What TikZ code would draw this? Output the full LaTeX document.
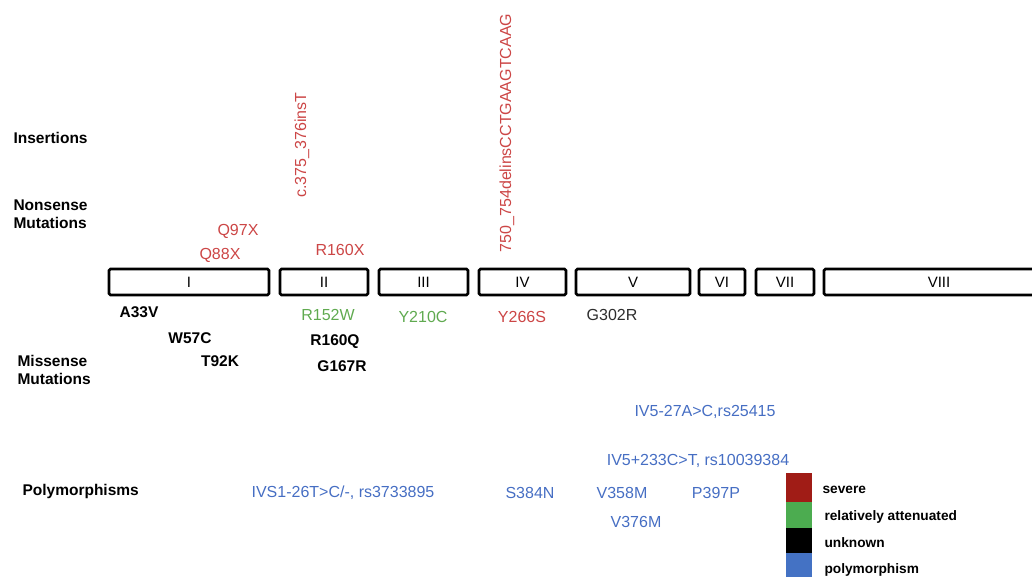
\documentclass[tikz,border=0pt]{standalone}
\usepackage{fontspec}
\setmainfont{Liberation Sans}
\definecolor{txtred}{RGB}{204,70,70}
\definecolor{txtgreen}{RGB}{96,170,80}
\definecolor{txtblue}{RGB}{70,110,195}
\definecolor{txtgray}{RGB}{45,45,45}
\definecolor{legred}{RGB}{160,28,22}
\definecolor{leggreen}{RGB}{76,172,80}
\definecolor{legblue}{RGB}{68,114,196}
\tikzset{
  exon/.style={draw, line width=2.8pt, rounded corners=1.5pt, minimum height=26pt, inner sep=0pt, font=\fontsize{15}{17}\selectfont},
  cat/.style={font=\fontsize{15.5}{18}\selectfont\bfseries, anchor=west, align=left},
  mut/.style={font=\fontsize{16}{18}\selectfont},
  sev/.style={mut, text=txtred},
  att/.style={mut, text=txtgreen},
  unk/.style={font=\fontsize{15.5}{18}\selectfont\bfseries, text=black},
  unkg/.style={mut, text=txtgray},
  poly/.style={mut, text=txtblue},
  legbox/.style={minimum width=26pt, inner sep=0pt, draw=none},
  legtxt/.style={font=\fontsize{13.7}{16}\selectfont\bfseries, anchor=west}
}
\begin{document}
\begin{tikzpicture}[x=1pt,y=-1pt]
\useasboundingbox (0,0) rectangle (1032,577);
\begin{scope}
\clip (0,0) rectangle (1032,577);
% category labels
\node[cat] (ins) at (10,138) {Insertions};
\node[cat] (non) at (10,214) {Nonsense\\Mutations};
\node[cat] (mis) at (14,370) {Missense\\Mutations};
\node[cat] (pol) at (19,491) {Polymorphisms};
% exons
\node[exon, minimum width=160pt] (e1) at (189,282) {I};
\node[exon, minimum width=88pt] (e2) at (324,282) {II};
\node[exon, minimum width=89pt] (e3) at (423.5,282) {III};
\node[exon, minimum width=87pt] (e4) at (522.5,282) {IV};
\node[exon, minimum width=114pt] (e5) at (633,282) {V};
\node[exon, minimum width=46pt] (e6) at (722,282) {VI};
\node[exon, minimum width=58pt] (e7) at (785,282) {VII};
\node[exon, minimum width=230pt] (e8) at (939,282) {VIII};
% insertions
\node[sev, rotate=90] (i1) at (302,145) {c.375\_376insT};
\node[sev, rotate=90] (i2) at (507,133) {750\_754delinsCCTGAAGTCAAG};
% nonsense
\node[sev] (n1) at (238,231) {Q97X};
\node[sev] (n2) at (220,255) {Q88X};
\node[sev] (n3) at (340,250) {R160X};
% missense
\node[unk] (m1) at (139,312) {A33V};
\node[unk] (m2) at (190,338) {W57C};
\node[unk] (m3) at (220,361) {T92K};
\node[att] (m4) at (328,315) {R152W};
\node[unk] (m5) at (335,342) {R160Q};
\node[unk] (m6) at (342,366) {G167R};
\node[att] (m7) at (423,317) {Y210C};
\node[sev] (m8) at (522,317) {Y266S};
\node[unkg] (m9) at (612,315) {G302R};
% polymorphisms
\node[poly] (p1) at (705,412) {IV5-27A>C,rs25415};
\node[poly] (p2) at (698,461) {IV5+233C>T, rs10039384};
\node[poly] (p3) at (343,493) {IVS1-26T>C/-, rs3733895};
\node[poly] (p4) at (530,493) {S384N};
\node[poly] (p5) at (622,493) {V358M};
\node[poly] (p6) at (716,493) {P397P};
\node[poly] (p7) at (636,522) {V376M};
% legend
\node[legbox, fill=legred, minimum height=29pt] (l1) at (799,487.5) {};
\node[legbox, fill=leggreen, minimum height=26pt] (l2) at (799,515) {};
\node[legbox, fill=black, minimum height=25pt] (l3) at (799,540.5) {};
\node[legbox, fill=legblue, minimum height=25pt] (l4) at (799,565.5) {};
\node[legtxt] (t1) at (819,490) {severe};
\node[legtxt] (t2) at (821,517) {relatively attenuated};
\node[legtxt] (t3) at (821,543) {unknown};
\node[legtxt] (t4) at (821,570) {polymorphism};
\end{scope}
\end{tikzpicture}
\end{document}
